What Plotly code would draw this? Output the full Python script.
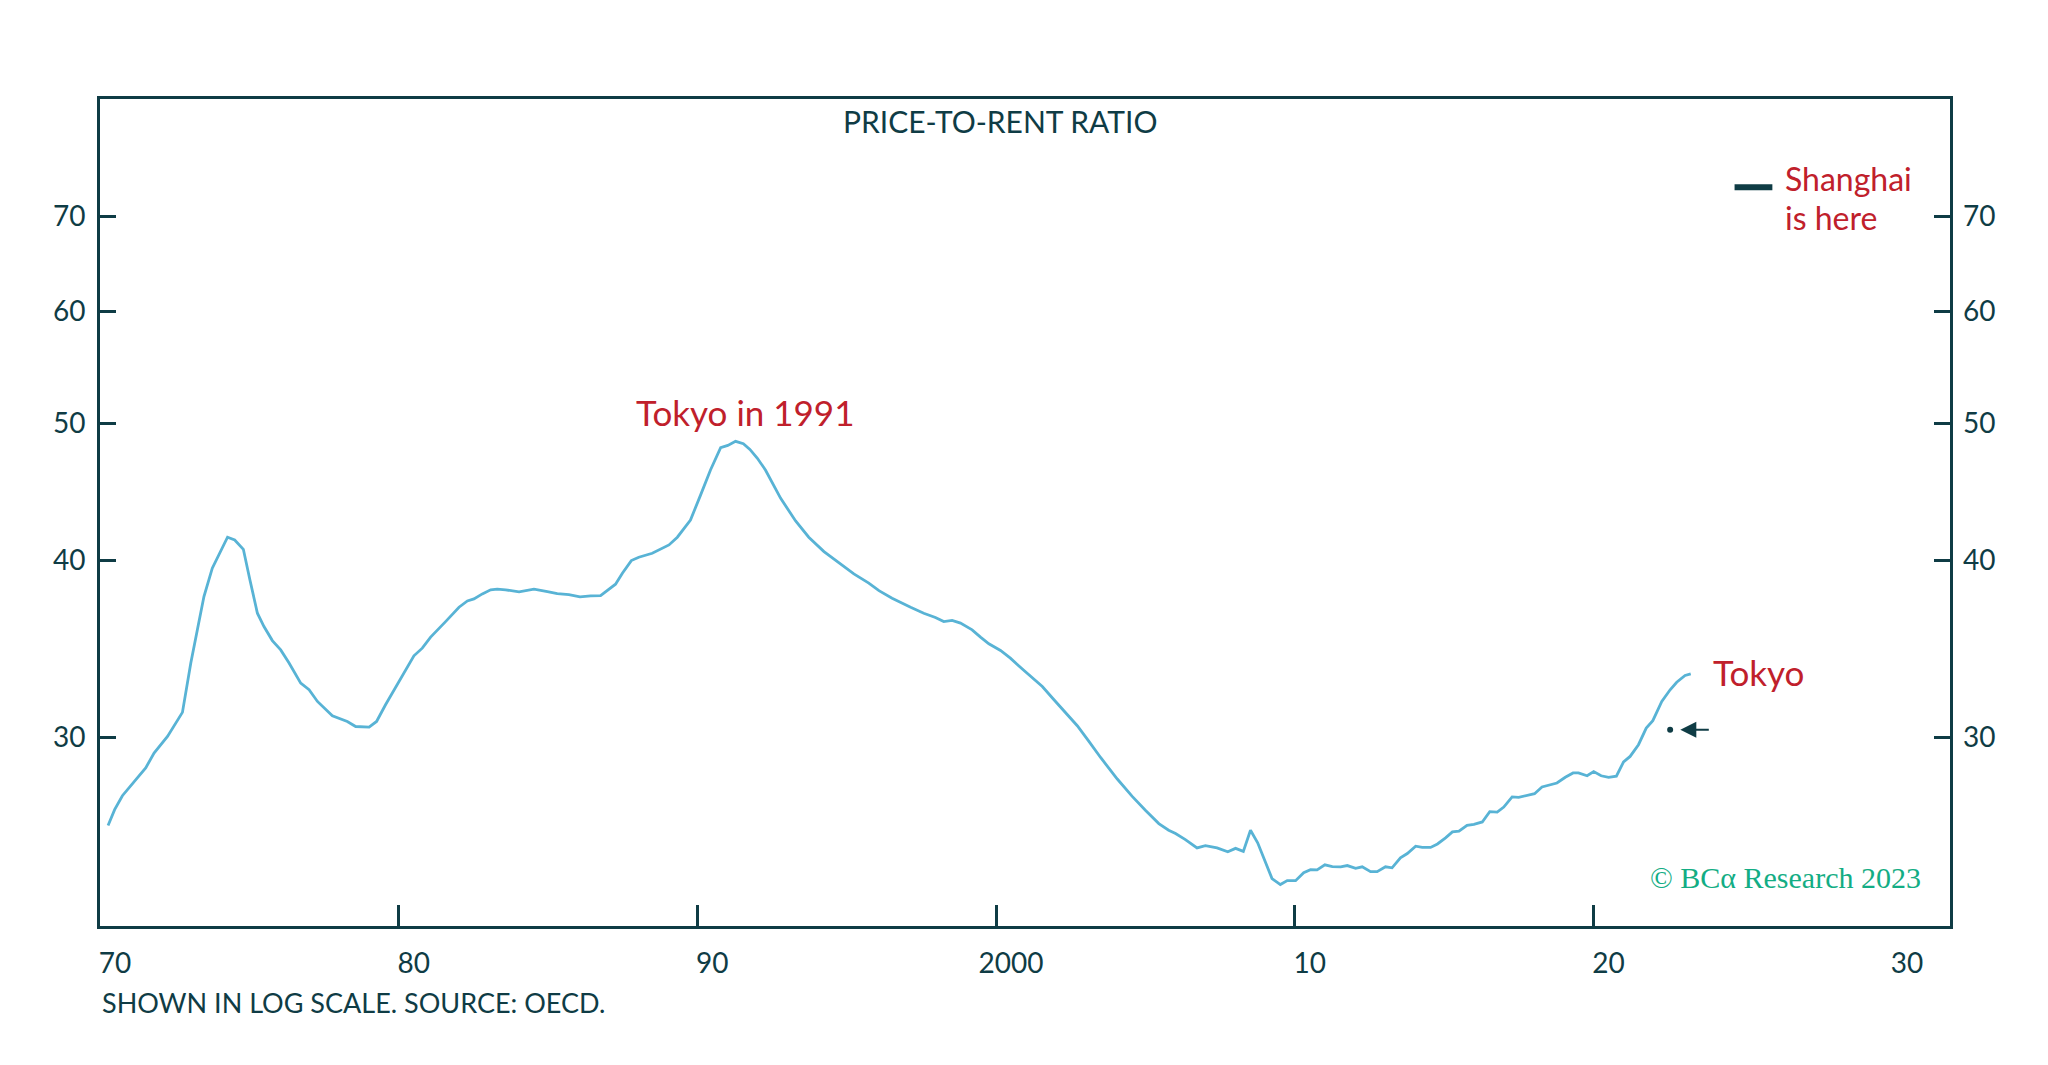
import math
import plotly.graph_objects as go

# ---- data ----
years = [1970.27, 1970.49, 1970.75, 1971.25, 1971.53, 1971.81, 1972.26, 1972.76, 1973.04, 1973.26,
         1973.48, 1973.76, 1974.02, 1974.27, 1974.51, 1974.80, 1975.02, 1975.27, 1975.49, 1975.77,
         1976.05, 1976.33, 1976.72, 1977.00, 1977.28, 1977.78, 1978.28, 1978.56, 1979.01, 1979.26,
         1979.56, 1979.96, 1980.23, 1980.51, 1980.79, 1981.07, 1981.57, 1982.02, 1982.30, 1982.52,
         1982.80, 1983.08, 1983.30, 1983.58, 1984.03, 1984.53, 1984.98, 1985.31, 1985.70, 1986.07,
         1986.43, 1986.76, 1987.26, 1987.49, 1987.79, 1988.04, 1988.49, 1988.77, 1989.05, 1989.33,
         1989.77, 1990.11, 1990.44, 1990.78, 1991.02, 1991.28, 1991.54, 1991.76, 1992.01, 1992.28,
         1992.51, 1992.79, 1993.29, 1993.73, 1994.24, 1994.68, 1995.24, 1995.74, 1996.08, 1996.52,
         1996.80, 1997.14, 1997.58, 1997.97, 1998.25, 1998.53, 1998.81, 1999.20, 1999.48, 1999.76,
         2000.15, 2000.48, 2000.88, 2001.27, 2001.55, 2001.94, 2002.33, 2002.72, 2003.11, 2003.50,
         2004.06, 2004.56, 2005.00, 2005.45, 2005.78, 2006.01, 2006.34, 2006.73, 2007.01, 2007.40,
         2007.76, 2008.02, 2008.28, 2008.52, 2008.76, 2009.02, 2009.24, 2009.52, 2009.75, 2010.03,
         2010.30, 2010.53, 2010.75, 2011.01, 2011.26, 2011.54, 2011.76, 2012.04, 2012.26, 2012.54,
         2012.76, 2013.04, 2013.26, 2013.54, 2013.77, 2014.05, 2014.27, 2014.55, 2014.78, 2015.05,
         2015.28, 2015.50, 2015.77, 2016.00, 2016.28, 2016.53, 2016.78, 2017.00, 2017.28, 2017.50,
         2017.78, 2018.03, 2018.28, 2018.56, 2018.78, 2019.06, 2019.32, 2019.50, 2019.79, 2020.01,
         2020.26, 2020.51, 2020.77, 2021.01, 2021.23, 2021.51, 2021.77, 2021.99, 2022.29, 2022.57,
         2022.79, 2023.07, 2023.26]
tokyo_ratio = [25.98, 26.66, 27.27, 28.07, 28.53, 29.23, 30.03, 31.23, 33.84, 35.72,
               37.71, 39.49, 40.57, 41.53, 41.34, 40.72, 38.74, 36.70, 35.91, 35.10,
               34.57, 33.84, 32.75, 32.40, 31.79, 31.06, 30.77, 30.52, 30.49, 30.77,
               31.62, 32.67, 33.47, 34.24, 34.67, 35.30, 36.20, 37.06, 37.44, 37.56,
               37.87, 38.12, 38.16, 38.12, 38.00, 38.16, 38.01, 37.89, 37.83, 37.69,
               37.75, 37.77, 38.47, 39.17, 39.98, 40.20, 40.46, 40.76, 41.01, 41.53,
               42.71, 44.49, 46.33, 48.04, 48.22, 48.54, 48.35, 47.91, 47.22, 46.33,
               45.33, 44.24, 42.64, 41.53, 40.57, 39.91, 39.12, 38.54, 38.07, 37.61,
               37.35, 37.06, 36.70, 36.44, 36.20, 36.27, 36.11, 35.72, 35.30, 34.92,
               34.54, 34.11, 33.51, 32.93, 32.57, 31.88, 31.23, 30.56, 29.79, 29.02,
               28.02, 27.24, 26.63, 26.06, 25.78, 25.64, 25.39, 25.05, 25.14, 25.05,
               24.89, 25.03, 24.91, 25.78, 25.26, 24.51, 23.83, 23.60, 23.75, 23.75,
               24.06, 24.18, 24.17, 24.37, 24.30, 24.29, 24.34, 24.23, 24.29, 24.10,
               24.10, 24.29, 24.25, 24.65, 24.82, 25.12, 25.07, 25.07, 25.21, 25.46,
               25.71, 25.74, 25.99, 26.03, 26.13, 26.57, 26.55, 26.77, 27.22, 27.20,
               27.30, 27.36, 27.66, 27.76, 27.84, 28.10, 28.30, 28.30, 28.17, 28.36,
               28.17, 28.10, 28.15, 28.81, 29.07, 29.63, 30.44, 30.81, 31.79, 32.40,
               32.80, 33.16, 33.25]

shanghai_ratio = 73.4
pointer_ratio = 30.36

x_tick_vals = [1970, 1980, 1990, 2000, 2010, 2020, 2030]
x_tick_text = ["70", "80", "90", "2000", "10", "20", "30"]
x_mark_vals = [1980, 1990, 2000, 2010, 2020]
y_tick_vals = [30, 40, 50, 60, 70]
y_tick_text = ["30", "40", "50", "60", "70"]

# ---- styling ----
DARK = "#0F3C45"
BLUE = "#58B3D5"
RED = "#C0202B"
GREEN = "#13AD84"
FONT = "Lato, 'Noto Sans', sans-serif"
X_RANGE = [1970, 2031.94]
Y_RANGE = [math.log10(22.06), math.log10(84.73)]

fig = go.Figure()
fig.add_trace(go.Scatter(x=years, y=tokyo_ratio, mode="lines",
                         line=dict(color=BLUE, width=2.8), hoverinfo="x+y",
                         showlegend=False, xaxis="x", yaxis="y"))
# Shanghai level marker
fig.add_trace(go.Scatter(x=[2025.36], y=[shanghai_ratio], mode="markers",
                         marker=dict(symbol="line-ew", size=27,
                                     line=dict(color=DARK, width=6)),
                         showlegend=False, xaxis="x2", yaxis="y2"))
# small pointer dot
fig.add_trace(go.Scatter(x=[2022.57], y=[pointer_ratio], mode="markers",
                         marker=dict(symbol="circle", size=6, color=DARK),
                         showlegend=False, xaxis="x2", yaxis="y2"))

tickfont = dict(family=FONT, size=28, color=DARK)
fig.update_layout(
    width=2048, height=1065,
    margin=dict(l=100, r=97.5, t=98.5, b=138.5),
    paper_bgcolor="white", plot_bgcolor="white",
    showlegend=False,
    xaxis=dict(range=X_RANGE, tickvals=x_tick_vals, ticktext=x_tick_text,
               ticks="", showline=True, linecolor=DARK, linewidth=3, mirror=True,
               showgrid=False, zeroline=False, tickfont=tickfont,
               ticklabelshift=15, ticklabelstandoff=10),
    xaxis2=dict(range=X_RANGE, overlaying="x", anchor="y", side="bottom",
                tickvals=x_mark_vals, ticks="inside", ticklen=21, tickwidth=2.5,
                tickcolor=DARK, showticklabels=False, showline=False,
                showgrid=False, zeroline=False),
    yaxis=dict(type="log", range=Y_RANGE, tickvals=y_tick_vals, ticktext=y_tick_text,
               ticks="inside", ticklen=16, tickwidth=3, tickcolor=DARK,
               showline=True, linecolor=DARK, linewidth=3, mirror=True,
               showgrid=False, zeroline=False, tickfont=tickfont,
               ticklabelstandoff=6),
    yaxis2=dict(type="log", range=Y_RANGE, overlaying="y", side="right", anchor="x",
                tickvals=y_tick_vals, ticktext=y_tick_text,
                ticks="inside", ticklen=16, tickwidth=3, tickcolor=DARK,
                showline=False, showgrid=False, zeroline=False, tickfont=tickfont,
                ticklabelstandoff=12),
)

fig.add_annotation(text="PRICE-TO-RENT RATIO", xref="paper", yref="paper",
                   x=0.4864, y=0.9728, xanchor="center", yanchor="middle",
                   showarrow=False, font=dict(family=FONT, size=30, color=DARK))
fig.add_annotation(text="SHOWN IN LOG SCALE. SOURCE: OECD.", xref="paper", yref="paper",
                   x=0.0, y=-0.0924, xanchor="left", yanchor="middle",
                   showarrow=False, font=dict(family=FONT, size=27, color=DARK))
fig.add_annotation(text="Tokyo in 1991", xref="paper", yref="paper",
                   x=0.3486, y=0.6214, xanchor="center", yanchor="middle",
                   showarrow=False, font=dict(family=FONT, size=35, color=RED))
fig.add_annotation(text="Tokyo", xref="paper", yref="paper",
                   x=0.8706, y=0.3074, xanchor="left", yanchor="middle",
                   showarrow=False, font=dict(family=FONT, size=35, color=RED))
fig.add_annotation(text="Shanghai", xref="paper", yref="paper",
                   x=0.9095, y=0.9040, xanchor="left", yanchor="middle", align="left",
                   showarrow=False, font=dict(family=FONT, size=32, color=RED))
fig.add_annotation(text="is here", xref="paper", yref="paper",
                   x=0.9095, y=0.8569, xanchor="left", yanchor="middle", align="left",
                   showarrow=False, font=dict(family=FONT, size=32, color=RED))
fig.add_annotation(text="© BCα Research 2023", xref="paper", yref="paper",
                   x=0.9111, y=0.0586, xanchor="center", yanchor="middle",
                   showarrow=False,
                   font=dict(family="'Liberation Serif', 'DejaVu Serif', serif", size=30, color=GREEN))
# pointer arrow
fig.add_annotation(text="", xref="x", yref="y", x=2022.91, y=math.log10(pointer_ratio),
                   ax=30, ay=0, showarrow=True, arrowhead=2, arrowsize=1.6,
                   arrowwidth=2, arrowcolor=DARK)

fig.write_html("out.html", config={"displayModeBar": False},
               post_script="document.body.style.margin='0';")
